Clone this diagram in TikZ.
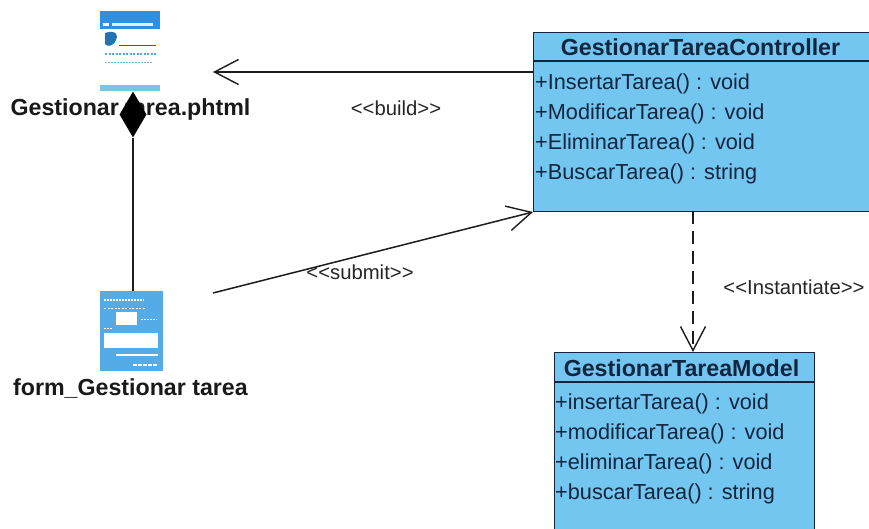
\documentclass[tikz,border=0pt]{standalone}
\usepackage{fontspec}
\setmainfont{Liberation Sans}
\usetikzlibrary{arrows.meta,shapes.geometric}
\definecolor{classblue}{HTML}{73C6F0}
\definecolor{classline}{HTML}{10253F}
\definecolor{icontop}{HTML}{2F8FE0}
\definecolor{iconform}{HTML}{55ABE6}
\definecolor{iconbar}{HTML}{7CC4E4}
\definecolor{linegray}{HTML}{1C1C1C}
\tikzset{
  x=1pt,y=-1pt,
  classbox/.style={draw=classline,line width=1.3pt,fill=classblue},
  classrule/.style={draw=classline,line width=1.1pt},
  headtext/.style={anchor=center,inner sep=0pt,font=\fontsize{23.2}{24}\selectfont\bfseries,text=classline},
  membertext/.style={anchor=west,inner sep=0pt,font=\fontsize{21.7}{24}\selectfont,text=classline},
  labeltext/.style={anchor=center,inner sep=0pt,font=\fontsize{23.2}{24}\selectfont\bfseries,text=black!90},
  stereotext/.style={anchor=center,inner sep=0pt,font=\fontsize{20.3}{22}\selectfont,text=black!85},
  conn/.style={draw=linegray,line width=1.5pt},
  openhead/.style={-{Straight Barb[length=24pt,width=25pt,line width=1.4pt]}},
  point/.style={inner sep=0pt,minimum size=0pt},
}
\begin{document}
\begin{tikzpicture}
\useasboundingbox (0,0) rectangle (869,529);
\clip (0,0) rectangle (869,529);
% page icon
\fill[icontop] (100,11) rectangle (160,29);
\fill[white!85!icontop] (112,23.5) rectangle (153,26.5);
\fill[white] (103,23.5) rectangle (109,26.5);
\fill[icontop!80!black] (105,33) .. controls (116,29) and (119,36) .. (116,40) .. controls (113,47) and (107,47) .. (105,44) -- cycle;
\draw[icontop!70!black,line width=.8pt] (119,45) -- (156,45);
\draw[icontop!80,line width=2pt,dash pattern=on 2pt off 1.5pt] (105,54) -- (156,54);
\draw[icontop!70,line width=1.5pt,dash pattern=on 1.5pt off 1.5pt] (105,62.5) -- (153,62.5);
\fill[iconbar] (100,85) rectangle (160,91);
% form icon
\fill[iconform] (100,291) rectangle (163,371);
\fill[white] (116,312) rectangle (137,325);
\fill[white] (104,333) rectangle (158,348);
\draw[white,line width=1.5pt] (116,355) -- (158,355);
\draw[white,line width=1.2pt,dash pattern=on 2pt off 1pt] (104,300) -- (144,300);
\draw[white,line width=1pt,dash pattern=on 2pt off 1.5pt] (104,308) -- (146,308);
\draw[white,line width=1.5pt,dash pattern=on 4pt off 1pt] (133,365) -- (158,365);
\draw[white,line width=1pt,dash pattern=on 2pt off 1pt] (141,319) -- (157,319);
\draw[white,line width=1pt,dash pattern=on 2pt off 1pt] (104,328) -- (112,328);
% labels
\node[labeltext] (pagelabel) at (130.5,110) {Gestionar tarea.phtml};
\node[labeltext] (formlabel) at (130.5,389) {form\_Gestionar tarea};
% named icon anchors
\node[point] (page) at (130,51) {};
\coordinate (pageright) at (213,72);
\coordinate (pagebottom) at (133,92);
\coordinate (formtop) at (133,291);
\coordinate (formright) at (213,293);
% controller
\node[classbox,draw,minimum width=344pt,minimum height=179pt,anchor=north west,inner sep=0pt] (ctrl) at (533,32) {};
\draw[classrule] (533,61) -- (877,61);
\node[headtext] (ctrlh) at (700.5,47) {GestionarTareaController};
\node[membertext] (c1) at (535,84) {+InsertarTarea() : void};
\node[membertext] (c2) at (535,114) {+ModificarTarea() : void};
\node[membertext] (c3) at (535,144) {+EliminarTarea() : void};
\node[membertext] (c4) at (535,174) {+BuscarTarea() : string};
% model
\node[classbox,draw,minimum width=260.5pt,minimum height=200pt,anchor=north west,inner sep=0pt] (model) at (553.5,352) {};
\draw[classrule] (553.5,382) -- (814,382);
\node[headtext] (modelh) at (681.5,368) {GestionarTareaModel};
\node[membertext] (m1) at (555,404) {+insertarTarea() : void};
\node[membertext] (m2) at (555,434) {+modificarTarea() : void};
\node[membertext] (m3) at (555,464) {+eliminarTarea() : void};
\node[membertext] (m4) at (555,494) {+buscarTarea() : string};
% connectors
\coordinate (ctrlw) at (533,72);
\coordinate (ctrlsw) at (533,212);
\coordinate (ctrlb) at (693,211);
\coordinate (modelt) at (693,352);
\draw[conn,openhead] (ctrlw) -- (pageright);
\draw[conn,openhead] (formright) -- (ctrlsw);
\draw[conn,openhead,dash pattern=on 13pt off 7pt] (ctrlb) -- (modelt);
\node[diamond,aspect=.58,fill=black,inner sep=0pt,minimum width=27pt,minimum height=46pt] (comp) at (133,114.5) {};
\draw[conn] (comp.south) -- (formtop);
% stereotypes
\node[stereotext] (build) at (396,108) {<{}<build>{}>};
\node[stereotext] (submit) at (360,272) {<{}<submit>{}>};
\node[stereotext] (inst) at (794,287) {<{}<Instantiate>{}>};
\end{tikzpicture}
\end{document}
